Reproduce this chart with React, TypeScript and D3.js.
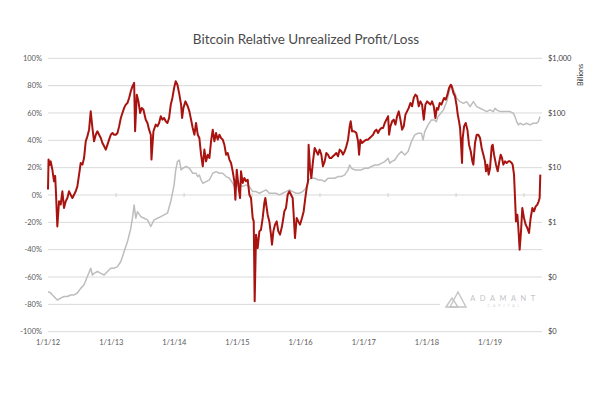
import React from "react";
import * as d3 from "d3";

// Relative unrealized profit/loss (%), [decimal year, percent]
const rupl: [number, number][] = [
  [2012.0, 4], [2012.008, 26], [2012.025, 22], [2012.04, 24.6], [2012.064, 18.5], [2012.088, 10],
  [2012.105, 14], [2012.115, 4], [2012.137, -23], [2012.162, -4.6], [2012.186, -7], [2012.211, 2.7],
  [2012.235, -9.5], [2012.26, -4.6], [2012.284, -2.2], [2012.309, 2.7], [2012.333, 0.2], [2012.358, -2.2],
  [2012.382, 0.2], [2012.407, 2.7], [2012.431, 6.3], [2012.456, 14.9], [2012.48, 23.4], [2012.505, 22.2],
  [2012.529, 27], [2012.554, 39.3], [2012.578, 42.9], [2012.603, 47.8], [2012.627, 61.2], [2012.652, 49],
  [2012.676, 39.3], [2012.701, 44.1], [2012.725, 46.6], [2012.75, 44.1], [2012.775, 41.7], [2012.799, 38],
  [2012.824, 35.6], [2012.848, 33.2], [2012.873, 36.8], [2012.897, 40.5], [2012.922, 44.1], [2012.946, 45.4],
  [2012.971, 44.1], [2012.995, 44.1], [2013.02, 45.4], [2013.044, 50.2], [2013.069, 56.3], [2013.093, 60],
  [2013.118, 63.7], [2013.142, 66.1], [2013.167, 67.3], [2013.191, 71], [2013.216, 75.9], [2013.24, 79.5],
  [2013.265, 82], [2013.279, 46.6], [2013.304, 73.4], [2013.328, 68.5], [2013.353, 60], [2013.377, 63.7],
  [2013.402, 62.4], [2013.436, 55.1], [2013.461, 52.7], [2013.485, 47.8], [2013.51, 44.1], [2013.52, 25.9],
  [2013.549, 46.6], [2013.583, 51.5], [2013.608, 50.2], [2013.632, 52.7], [2013.657, 57.6], [2013.681, 55.1],
  [2013.706, 56.3], [2013.73, 53.9], [2013.755, 52.7], [2013.779, 56.3], [2013.804, 66.1], [2013.828, 71],
  [2013.853, 78.3], [2013.877, 83.2], [2013.902, 80.7], [2013.931, 73.4], [2013.956, 66.1], [2013.971, 56.3],
  [2013.99, 63.7], [2014.02, 68.5], [2014.054, 64.9], [2014.078, 61.2], [2014.103, 55.1], [2014.127, 49],
  [2014.152, 44.1], [2014.176, 52.7], [2014.201, 44.1], [2014.225, 41.7], [2014.25, 29.5], [2014.275, 21],
  [2014.299, 33.2], [2014.324, 24.6], [2014.348, 29.5], [2014.373, 27.1], [2014.397, 39.3], [2014.422, 47.8],
  [2014.446, 39.3], [2014.471, 45.4], [2014.495, 40.5], [2014.52, 44.1], [2014.544, 41.7], [2014.569, 40.5],
  [2014.593, 36.8], [2014.618, 29.5], [2014.642, 30.7], [2014.667, 25.9], [2014.691, 23.4], [2014.716, 17.3],
  [2014.74, 10], [2014.755, -3.4], [2014.775, 18.5], [2014.804, 5.1], [2014.824, -2.2], [2014.838, 17.3],
  [2014.863, 8.8], [2014.887, 12.4], [2014.912, 10], [2014.936, 11.2], [2014.961, 0.2], [2014.985, -2.2],
  [2015.01, -16.8], [2015.025, -19.3], [2015.039, -77.8], [2015.059, -29], [2015.083, -38.8], [2015.108, -26.6],
  [2015.132, -25.4], [2015.157, -16.8], [2015.181, -5.9], [2015.196, -2.2], [2015.216, -9.5], [2015.23, -14.4],
  [2015.255, -19.3], [2015.279, -29], [2015.294, -36.3], [2015.314, -26.6], [2015.338, -21.7], [2015.363, -19.3],
  [2015.387, -26.6], [2015.412, -29], [2015.441, -22.9], [2015.461, -16.8], [2015.475, -12], [2015.5, -9.5],
  [2015.525, 0.2], [2015.549, 2.7], [2015.574, 0.2], [2015.598, -2.2], [2015.613, -14.4], [2015.632, -31.5],
  [2015.657, -16.8], [2015.681, -19.3], [2015.706, -21.7], [2015.735, -16.8], [2015.76, -12], [2015.784, -2.2],
  [2015.804, 5.1], [2015.824, 10], [2015.833, 36.8], [2015.853, 19.8], [2015.873, 12.4], [2015.897, 24.6],
  [2015.922, 34.4], [2015.946, 32], [2015.971, 29.5], [2015.995, 33.2], [2016.02, 29.5], [2016.044, 21],
  [2016.069, 24.6], [2016.093, 30.7], [2016.118, 29.5], [2016.142, 27.1], [2016.167, 27.1], [2016.191, 28.3],
  [2016.216, 29.5], [2016.24, 30.7], [2016.265, 28.3], [2016.289, 33.2], [2016.314, 32], [2016.338, 29.5],
  [2016.363, 32], [2016.387, 35.6], [2016.412, 40.5], [2016.436, 50.2], [2016.451, 53.9], [2016.471, 46.6],
  [2016.5, 46.6], [2016.534, 45.4], [2016.559, 39.3], [2016.574, 29.5], [2016.593, 40.5], [2016.618, 38],
  [2016.647, 39.3], [2016.681, 40.5], [2016.706, 40.5], [2016.73, 41.7], [2016.755, 42.9], [2016.779, 44.1],
  [2016.804, 46.6], [2016.828, 47.8], [2016.853, 45.4], [2016.877, 47.8], [2016.902, 49], [2016.926, 49],
  [2016.951, 52.7], [2016.975, 55.1], [2017.0, 57.6], [2017.015, 44.1], [2017.034, 50.2], [2017.059, 53.9],
  [2017.083, 55.1], [2017.108, 51.5], [2017.132, 57.6], [2017.157, 61.2], [2017.181, 55.1], [2017.206, 47.8],
  [2017.23, 50.2], [2017.255, 58.8], [2017.279, 61.2], [2017.304, 63.7], [2017.328, 67.3], [2017.353, 64.9],
  [2017.377, 71], [2017.402, 73.4], [2017.426, 72.2], [2017.451, 64.9], [2017.475, 68.5], [2017.5, 66.1],
  [2017.525, 55.1], [2017.549, 66.1], [2017.574, 68.5], [2017.598, 67.3], [2017.623, 66.1], [2017.647, 68.5],
  [2017.672, 64.9], [2017.696, 56.3], [2017.716, 63.7], [2017.735, 62.4], [2017.76, 67.3], [2017.784, 66.1],
  [2017.824, 71], [2017.848, 69.8], [2017.873, 73.4], [2017.897, 78.3], [2017.922, 80.7], [2017.936, 79.5],
  [2017.961, 74.6], [2017.985, 72.2], [2018.01, 64.9], [2018.025, 58.8], [2018.044, 53.9], [2018.059, 49],
  [2018.074, 36.8], [2018.088, 23.4], [2018.098, 41.7], [2018.118, 50.2], [2018.142, 52.7], [2018.167, 47.8],
  [2018.191, 36.8], [2018.216, 32], [2018.24, 24.6], [2018.255, 22.2], [2018.279, 38], [2018.304, 44.1],
  [2018.328, 44.1], [2018.353, 41.7], [2018.377, 34.4], [2018.402, 29.5], [2018.426, 24.6], [2018.441, 17.3],
  [2018.461, 22.2], [2018.48, 14.9], [2018.5, 19.8], [2018.525, 35.6], [2018.539, 36.8], [2018.559, 29.5],
  [2018.588, 22.2], [2018.613, 17.3], [2018.637, 24.6], [2018.657, 29.5], [2018.676, 27.1], [2018.696, 22.2],
  [2018.721, 24.6], [2018.745, 23.4], [2018.77, 24.6], [2018.794, 24.6], [2018.819, 23.4], [2018.833, 22.2],
  [2018.853, 14.9], [2018.868, -2.2], [2018.882, -19.3], [2018.902, -14.4], [2018.917, -24.1], [2018.936, -40],
  [2018.956, -26.6], [2018.975, -9.5], [2019.0, -16.8], [2019.025, -21.7], [2019.049, -24.1], [2019.074, -27.8],
  [2019.098, -16.8], [2019.123, -9.5], [2019.147, -12], [2019.172, -8.3], [2019.196, -7.1], [2019.216, -4.6],
  [2019.23, -2.2], [2019.24, 14.9],
];

// Market cap (billions USD), [decimal year, value]
const marketCap: [number, number][] = [
  [2012.0, 0.054], [2012.039, 0.051], [2012.064, 0.047], [2012.088, 0.044], [2012.137, 0.038], [2012.186, 0.041],
  [2012.235, 0.044], [2012.284, 0.044], [2012.333, 0.047], [2012.382, 0.047], [2012.431, 0.051], [2012.48, 0.062],
  [2012.529, 0.072], [2012.578, 0.102], [2012.627, 0.145], [2012.652, 0.109], [2012.676, 0.117], [2012.725, 0.126],
  [2012.775, 0.117], [2012.824, 0.109], [2012.873, 0.126], [2012.922, 0.145], [2012.971, 0.145], [2013.02, 0.155],
  [2013.069, 0.192], [2013.118, 0.292], [2013.167, 0.445], [2013.216, 0.78], [2013.24, 1.19], [2013.265, 2.08],
  [2013.289, 1.19], [2013.314, 1.57], [2013.363, 1.27], [2013.412, 1.19], [2013.461, 1.11], [2013.51, 0.84],
  [2013.559, 1.11], [2013.608, 1.19], [2013.657, 1.27], [2013.706, 1.37], [2013.755, 1.47], [2013.804, 2.4],
  [2013.853, 4.83], [2013.877, 9.0], [2013.902, 12.9], [2013.931, 13.8], [2013.956, 9.1], [2013.98, 9.75],
  [2014.029, 10.5], [2014.078, 9.75], [2014.127, 7.9], [2014.176, 7.9], [2014.201, 6.87], [2014.225, 7.36],
  [2014.25, 5.97], [2014.275, 5.19], [2014.324, 5.56], [2014.373, 5.97], [2014.422, 7.9], [2014.471, 8.47],
  [2014.52, 7.9], [2014.569, 7.9], [2014.618, 6.87], [2014.667, 6.4], [2014.716, 5.19], [2014.74, 4.51],
  [2014.765, 4.51], [2014.814, 5.19], [2014.863, 4.51], [2014.912, 4.83], [2014.961, 4.51], [2015.01, 3.65],
  [2015.059, 3.65], [2015.108, 3.4], [2015.157, 3.65], [2015.206, 3.92], [2015.255, 3.4], [2015.304, 3.4],
  [2015.353, 3.4], [2015.402, 3.17], [2015.451, 3.4], [2015.5, 3.65], [2015.549, 3.92], [2015.598, 3.65],
  [2015.647, 3.4], [2015.696, 3.4], [2015.745, 3.65], [2015.794, 4.2], [2015.833, 5.97], [2015.873, 6.4],
  [2015.922, 6.4], [2015.971, 5.97], [2016.02, 5.97], [2016.069, 5.56], [2016.118, 6.4], [2016.167, 6.4],
  [2016.216, 6.4], [2016.265, 6.87], [2016.314, 6.87], [2016.363, 7.36], [2016.412, 9.09], [2016.436, 11.2],
  [2016.461, 9.75], [2016.51, 9.09], [2016.559, 9.09], [2016.608, 9.09], [2016.657, 9.75], [2016.706, 9.75],
  [2016.755, 10.5], [2016.804, 11.2], [2016.853, 11.2], [2016.902, 12], [2016.951, 12.9], [2017.0, 14.9],
  [2017.025, 12], [2017.049, 12.9], [2017.098, 13.8], [2017.147, 17.1], [2017.196, 19.7], [2017.245, 17.1],
  [2017.294, 19.7], [2017.343, 30], [2017.392, 39.7], [2017.441, 42.6], [2017.49, 42.6], [2017.515, 32.1],
  [2017.539, 45.6], [2017.588, 60.4], [2017.637, 74.6], [2017.686, 74.6], [2017.711, 69.5], [2017.735, 85.8],
  [2017.784, 102], [2017.814, 114], [2017.863, 161], [2017.912, 283], [2017.936, 325], [2017.961, 264],
  [2017.985, 229], [2018.01, 186], [2018.034, 173], [2018.059, 161], [2018.108, 150], [2018.157, 161],
  [2018.206, 131], [2018.255, 161], [2018.304, 131], [2018.353, 122], [2018.402, 114], [2018.451, 106],
  [2018.5, 114], [2018.549, 106], [2018.574, 122], [2018.598, 114], [2018.647, 106], [2018.696, 106],
  [2018.745, 106], [2018.794, 106], [2018.843, 98.7], [2018.868, 85.8], [2018.892, 69.5], [2018.917, 60.4],
  [2018.941, 64.8], [2018.99, 60.4], [2019.039, 64.8], [2019.088, 60.4], [2019.137, 64.8], [2019.186, 64.8],
  [2019.211, 69.5], [2019.235, 85.8],
];

const pctTicks = [100, 80, 60, 40, 20, 0, -20, -40, -60, -80, -100];
const capTicks = [1000, 100, 10, 1, 0.1, 0.01];
const yearTicks = [2012, 2013, 2014, 2015, 2016, 2017, 2018, 2019];

const title = "Bitcoin Relative Unrealized Profit/Loss";

function toDate(v: number): Date {
  const y = Math.floor(v);
  const s = Date.UTC(y, 0, 1);
  const e = Date.UTC(y + 1, 0, 1);
  return new Date(s + (v - y) * (e - s));
}

export default function App() {
  const W = 600, H = 404;
  const left = 48, right = 542, top = 58.3, bottom = 331.7;
  const d0 = new Date(Date.UTC(2012, 0, 1));
  const d1 = new Date(Date.UTC(2019, 0, 1));
  const x = d3.scaleUtc().domain([d0, d1]).range([left, 524]);
  const xLabel = d3.scaleUtc().domain([d0, d1]).range([left, 490]);
  const yL = d3.scaleLinear().domain([-100, 100]).range([bottom, top]);
  const yR = d3.scaleLog().domain([0.01, 1000]).range([bottom, top]);
  const fmtDate = d3.utcFormat("%-m/%-d/%y");
  const fmtCap = d3.format("$,.0f");

  const redLine = d3.line<[number, number]>()
    .x((d) => x(toDate(d[0])))
    .y((d) => yL(d[1]));
  const grayLine = d3.line<[number, number]>()
    .x((d) => x(toDate(d[0])))
    .y((d) => yR(d[1]));

  const font = "Lato, 'Open Sans', sans-serif";

  return (
    <svg width={W} height={H} style={{ position: "absolute", left: 0, top: 0, background: "#fff" }}
      fontFamily={font}>
      <rect x={0} y={0} width={W} height={H} fill="#fff" />
      <text x={306} y={44} textAnchor="middle" fontSize={13.5} fill="#4A4A4A">{title}</text>

      {pctTicks.map((t) => (
        <g key={"g" + t}>
          <line x1={left} x2={right} y1={yL(t)} y2={yL(t)} stroke="#D9D9D9" strokeWidth={1} />
          <text x={42} y={yL(t)} dy="0.35em" textAnchor="end" fontSize={7.5} fill="#595959">{t}%</text>
        </g>
      ))}

      {yearTicks.slice(1).map((yr) => {
        const xx = x(new Date(Date.UTC(yr, 0, 1)));
        return <line key={"t" + yr} x1={xx} x2={xx} y1={yL(0) - 2} y2={yL(0) + 2} stroke="#D0D0D0" strokeWidth={1} />;
      })}

      {capTicks.map((t) => (
        <text key={"r" + t} x={548} y={yR(t)} dy="0.35em" textAnchor="start" fontSize={7.5} fill="#404040">{fmtCap(t)}</text>
      ))}
      <text transform="translate(581,75) rotate(-90)" textAnchor="middle" dy="0.35em" fontSize={7} fill="#333333">Billions</text>

      {yearTicks.map((yr) => {
        const d = new Date(Date.UTC(yr, 0, 1));
        return (
          <text key={"x" + yr} x={xLabel(d)} y={344.5} textAnchor="middle" fontSize={7.5} fill="#595959">{fmtDate(d)}</text>
        );
      })}

      {/* logo */}
      <rect x={440} y={286} width={102} height={26} fill="#fff" />
      <g fill="none" stroke="#C4C4C4" strokeWidth={1.4} strokeLinejoin="miter">
        <path d="M446,307 L452,298 L458,307 Z" />
        <path d="M450,307 L458,292 L466,307 Z" />
      </g>
      <text x={505} y={298} dy="0.35em" textAnchor="middle" fontSize={7.5} fill="#C4C4C4" letterSpacing={4.5}>ADAMANT</text>
      <text x={505} y={306} dy="0.35em" textAnchor="middle" fontSize={3.5} fill="#D4D4D4" letterSpacing={3}>CAPITAL</text>

      <path d={grayLine(marketCap) || ""} fill="none" stroke="#BDBDBD" strokeWidth={1.5} strokeLinejoin="round" />
      <path d={redLine(rupl) || ""} fill="none" stroke="#A8130F" strokeWidth={2} strokeLinejoin="round" />
    </svg>
  );
}
